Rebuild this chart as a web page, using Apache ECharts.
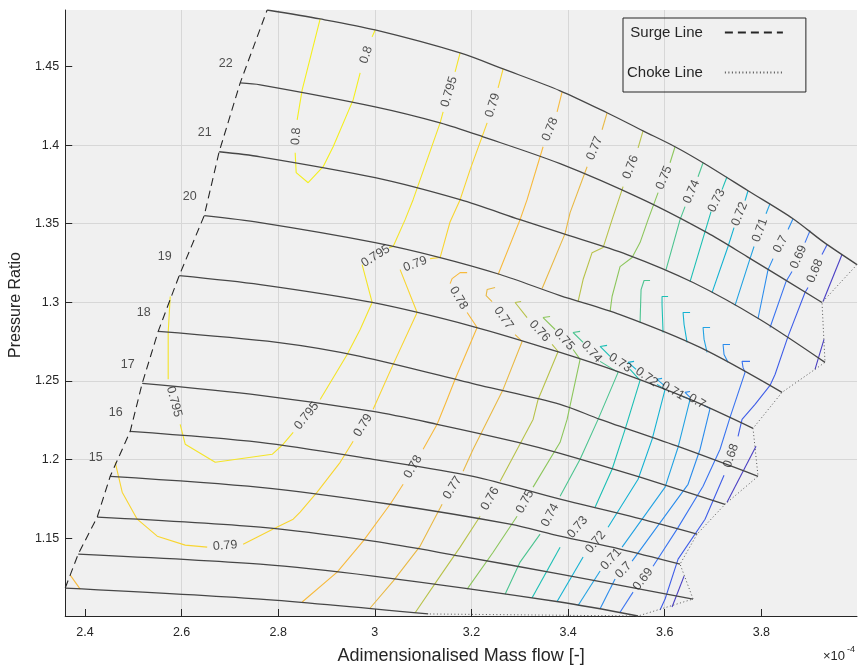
<!DOCTYPE html>
<html>
<head>
<meta charset="utf-8">
<title>Compressor map</title>
<script src="https://cdn.jsdelivr.net/npm/echarts@6.0.0/dist/echarts.min.js"></script>
<style>
html,body{margin:0;padding:0;background:#ffffff;}
#chart{width:860px;height:670px;}
</style>
</head>
<body>
<div id="chart"></div>
<script>
// ---------------- tick labels ----------------
const xTicks = [2.4, 2.6, 2.8, 3.0, 3.2, 3.4, 3.6, 3.8];
const yTicks = [1.15, 1.2, 1.25, 1.3, 1.35, 1.4, 1.45];

// ---------------- speed lines: [mass flow (x1e-4), pressure ratio] ----------------
const speedLine1 = [[2.7771,1.4860],[2.8868,1.4803],[3.0006,1.4733],[3.1765,1.4587],[3.2655,1.4485],[3.3834,1.4346],[3.4806,1.4206],[3.5551,1.4091],[3.6213,1.3990],[3.6793,1.3888],[3.7724,1.3710],[3.8655,1.3532],[3.9276,1.3386],[3.9979,1.3240]];
const speedLine2 = [[2.7213,1.4396],[2.7627,1.4384],[3.0006,1.4244],[3.1351,1.4142],[3.2241,1.4053],[3.3834,1.3882],[3.5551,1.3653],[3.6876,1.3443],[3.7703,1.3291],[3.9255,1.2999]];
const speedLine3 = [[2.6778,1.3958],[2.7627,1.3926],[3.0006,1.3793],[3.1765,1.3653],[3.3006,1.3526],[3.3834,1.3443],[3.5220,1.3304],[3.6586,1.3126],[3.7972,1.2891],[3.9317,1.2618]];
const speedLine4 = [[2.6468,1.3551],[2.7627,1.3507],[3.0006,1.3380],[3.1351,1.3285],[3.2593,1.3177],[3.3834,1.3043],[3.5075,1.2922],[3.6731,1.2713],[3.8427,1.2427]];
const speedLine5 = [[2.5951,1.3170],[2.7627,1.3113],[2.9944,1.2999],[3.2034,1.2846],[3.3834,1.2681],[3.5075,1.2554],[3.6524,1.2382],[3.7827,1.2198]];
const speedLine6 = [[2.5516,1.2815],[2.7978,1.2745],[2.9696,1.2656],[3.2179,1.2471],[3.3834,1.2351],[3.4662,1.2255],[3.6317,1.2078],[3.7931,1.1893]];
const speedLine7 = [[2.5185,1.2484],[2.7627,1.2408],[2.9965,1.2306],[3.1289,1.2224],[3.2965,1.2109],[3.3834,1.2039],[3.5489,1.1887],[3.7248,1.1715]];
const speedLine8 = [[2.4937,1.2179],[2.7627,1.2109],[2.9965,1.2001],[3.2034,1.1893],[3.3834,1.1747],[3.5282,1.1639],[3.6669,1.1525]];
const speedLine9 = [[2.4523,1.1893],[2.7627,1.1823],[3.0317,1.1715],[3.2799,1.1588],[3.3834,1.1512],[3.5075,1.1430],[3.6317,1.1334]];
const speedLine10 = [[2.4254,1.1633],[2.7627,1.1569],[2.9965,1.1480],[3.1765,1.1385],[3.3834,1.1271],[3.6586,1.1112]];
const speedLine11 = [[2.3861,1.1398],[2.7627,1.1334],[2.9965,1.1258],[3.3834,1.1093],[3.5448,1.1004]];
const speedLine12 = [[2.3592,1.1182],[2.7627,1.1112],[3.1103,1.1017]];
const speedLabels = ['', '22', '21', '20', '19', '18', '17', '16', '15', '', '', ''];

// ---------------- surge / choke ----------------
const surgeLine = [[2.3592,1.1182],[2.3861,1.1398],[2.4254,1.1633],[2.4523,1.1893],[2.4937,1.2179],[2.5185,1.2484],[2.5516,1.2815],[2.5951,1.3170],[2.6468,1.3551],[2.6778,1.3958],[2.7213,1.4396],[2.7771,1.4860]];
const chokeLine = [[3.9979,1.3240],[3.9255,1.2999],[3.9317,1.2618],[3.8427,1.2427],[3.7827,1.2198],[3.7931,1.1893],[3.7248,1.1715],[3.6669,1.1525],[3.6317,1.1334],[3.6586,1.1112],[3.5448,1.1004],[3.1103,1.1017]];

// ---------------- efficiency contours ('L' = labelled gap, null = break) ----------------
const eff080 = [[2.8868,1.4803],[2.8496,1.4352],[2.8392,1.4161],'L',[2.8351,1.3952],[2.8372,1.3825],[2.8620,1.3761],[2.8930,1.3863],[2.9137,1.3990],[2.9551,1.4288],[2.9696,1.4460],'L',[2.9944,1.4689],[3.0006,1.4733]];
const eff0795 = [[3.1765,1.4587],[3.1661,1.4466],'L',[3.1413,1.4212],[3.1351,1.4142],[3.0792,1.3653],[3.0627,1.3526],[3.0379,1.3355],[3.0296,1.3348],'L',[2.9737,1.3240],[2.9944,1.2999],[2.9696,1.2827],[2.9427,1.2668],[2.8868,1.2382],'L',[2.8310,1.2173],[2.8103,1.2097],[2.7875,1.2033],[2.6696,1.1982],[2.6075,1.2097],[2.5971,1.2224],'L',[2.5723,1.2510],[2.5723,1.2808],[2.5765,1.3037]];
const eff079 = [[3.2655,1.4485],[3.2551,1.4365],'L',[3.2324,1.4142],[3.1972,1.3844],[3.1765,1.3653],[3.1558,1.3513],[3.1351,1.3285],[3.1144,1.3278],'L',[3.0523,1.3208],[3.0875,1.2935],[3.0379,1.2605],[2.9965,1.2319],'L',[2.9551,1.2116],[2.9282,1.1982],[2.8806,1.1792],[2.8454,1.1665],[2.8310,1.1620],[2.7896,1.1557],[2.7275,1.1461],'L',[2.6530,1.1442],[2.6075,1.1455],[2.5496,1.1512],[2.5082,1.1620],[2.4771,1.1792],[2.4627,1.1982]];
const eff078 = [[3.3875,1.4339],[3.3772,1.4212],'L',[3.3482,1.3990],[3.3151,1.3653],[3.3006,1.3526],[3.2551,1.3177],null,[3.1910,1.3189],[3.1765,1.3189],[3.1599,1.3151],[3.1558,1.3119],'L',[3.1910,1.2935],[3.2117,1.2840],[3.1661,1.2510],[3.1496,1.2382],[3.1289,1.2224],[3.0999,1.2065],'L',[3.0586,1.1842],[3.0317,1.1715],[2.9758,1.1480],[2.9220,1.1283],[2.8496,1.1093],null,[2.3695,1.1264],[2.3902,1.1175]];
const eff077 = [[3.4806,1.4206],[3.4703,1.4098],'L',[3.4393,1.3863],[3.4041,1.3571],[3.3937,1.3437],[3.3462,1.3088],null,[3.2489,1.3094],[3.2324,1.3081],[3.2303,1.3043],[3.2427,1.3005],'L',[3.2903,1.2795],[3.3048,1.2751],[3.2655,1.2446],[3.2034,1.2065],[3.1827,1.1925],'L',[3.1392,1.1715],[3.0937,1.1449],[3.0379,1.1226],[2.9903,1.1055]];
const eff076 = [[3.5551,1.4091],[3.5448,1.3983],'L',[3.5138,1.3736],[3.4910,1.3526],[3.4724,1.3348],[3.4496,1.3316],[3.4310,1.3145],[3.4206,1.3005],null,[3.3027,1.3005],[3.2903,1.2999],[3.3151,1.2903],'L',[3.3668,1.2732],[3.3793,1.2687],[3.3379,1.2382],[3.3275,1.2255],[3.2593,1.1862],'L',[3.2179,1.1639],[3.1765,1.1442],[3.1351,1.1258],[3.0834,1.1025]];
const eff075 = [[3.6213,1.3990],[3.6110,1.3888],'L',[3.5862,1.3698],[3.5655,1.3526],[3.5489,1.3380],[3.5324,1.3285],[3.5075,1.3227],[3.4910,1.3037],[3.4869,1.2942],null,[3.3627,1.2910],[3.3482,1.2903],[3.3731,1.2827],'L',[3.4103,1.2700],[3.4248,1.2637],[3.3979,1.2255],[3.3834,1.2109],[3.3275,1.1824],'L',[3.2944,1.1639],[3.2448,1.1410],[3.1910,1.1175]];
const eff074 = [[3.6793,1.3888],[3.6689,1.3799],'L',[3.6420,1.3609],[3.6317,1.3526],[3.6027,1.3208],null,[3.5696,1.3139],[3.5572,1.3139],[3.5510,1.3081],[3.5489,1.2872],null,[3.4248,1.2815],[3.4103,1.2808],[3.4310,1.2745],'L',[3.4662,1.2624],[3.5034,1.2554],[3.4620,1.2255],[3.4248,1.2001],[3.3834,1.1766],'L',[3.3420,1.1525],[3.3006,1.1347],[3.2696,1.1143]];
const eff073 = [[3.7289,1.3799],[3.7186,1.3717],'L',[3.6958,1.3577],[3.6834,1.3450],[3.6524,1.3132],null,[3.6069,1.3037],[3.5944,1.3037],[3.5944,1.2986],[3.5965,1.2808],null,[3.4806,1.2726],[3.4662,1.2719],[3.4869,1.2656],'L',[3.5282,1.2573],[3.5489,1.2503],[3.5179,1.2192],[3.4910,1.1938],[3.4558,1.1696],'L',[3.3834,1.1442],[3.3255,1.1120]];
const eff072 = [[3.7724,1.3710],[3.7662,1.3647],'L',[3.7434,1.3475],[3.7310,1.3355],[3.6979,1.3062],null,[3.6524,1.2935],[3.6379,1.2935],[3.6400,1.2859],[3.6462,1.2745],null,[3.5365,1.2624],[3.5241,1.2618],[3.5407,1.2573],'L',[3.5841,1.2478],[3.6007,1.2446],[3.5738,1.2128],[3.5448,1.1874],[3.4827,1.1569],'L',[3.4310,1.1379],[3.3772,1.1096]];
const eff071 = [[3.8179,1.3628],[3.8096,1.3564],'L',[3.7848,1.3355],[3.7765,1.3278],[3.7455,1.2980],null,[3.6938,1.2840],[3.6793,1.2840],[3.6814,1.2764],[3.6876,1.2681],null,[3.5944,1.2516],[3.5841,1.2510],[3.5986,1.2471],'L',[3.6358,1.2402],[3.6524,1.2382],[3.6276,1.2078],[3.6007,1.1824],[3.5117,1.1442],'L',[3.4662,1.1290],[3.4206,1.1071]];
const eff070 = [[3.8655,1.3532],[3.8552,1.3463],'L',[3.8241,1.3278],[3.8138,1.3208],[3.7931,1.2897],null,[3.7351,1.2732],[3.7207,1.2732],[3.7227,1.2668],[3.7310,1.2618],null,[3.6524,1.2433],[3.6420,1.2427],[3.6524,1.2395],'L',[3.6814,1.2344],[3.6938,1.2325],[3.6731,1.2065],[3.6482,1.1842],[3.5324,1.1353],'L',[3.4972,1.1239],[3.4662,1.1050]];
const eff069 = [[3.9007,1.3456],[3.8903,1.3380],'L',[3.8634,1.3196],[3.8510,1.3132],[3.8179,1.2840],null,[3.7765,1.2624],[3.7600,1.2624],[3.7620,1.2586],[3.7662,1.2554],[3.7351,1.2268],[3.7145,1.2065],[3.6793,1.1830],[3.6255,1.1557],[3.5758,1.1321],'L',[3.5344,1.1156],[3.5075,1.1028]];
const eff068 = [[3.9359,1.3367],[3.9255,1.3304],'L',[3.8965,1.3094],[3.8903,1.3062],[3.8552,1.2783],[3.8283,1.2541],[3.8179,1.2471],[3.7869,1.2351],[3.7600,1.2255],[3.7517,1.2147],'L',[3.7227,1.1900],[3.6834,1.1620],[3.6276,1.1366],[3.6007,1.1112],[3.5903,1.1042]];
const eff067 = [[3.9669,1.3304],[3.9276,1.3005],null,[3.9296,1.2764],[3.9172,1.2637],[3.9110,1.2573],null,[3.7889,1.2084],[3.7289,1.1728],null,[3.6400,1.1258],[3.6151,1.1061]];

// ---------------- styling (not data) ----------------
const FONT = '"Liberation Sans", Arial, Helvetica, sans-serif';
const TXT = '#262626';
const GRID = { left: 65, right: 3, top: 10, bottom: 53 };
const W = 860, H = 670;
const contours = [
  { level: 0.67, pts: eff067, color: '#4a3fc4' },
  { level: 0.68, pts: eff068, color: '#3f5de8' },
  { level: 0.69, pts: eff069, color: '#3a74f0' },
  { level: 0.70, pts: eff070, color: '#2b8cec' },
  { level: 0.71, pts: eff071, color: '#22a2e2' },
  { level: 0.72, pts: eff072, color: '#14b2d2' },
  { level: 0.73, pts: eff073, color: '#1cbfb4' },
  { level: 0.74, pts: eff074, color: '#4cc490' },
  { level: 0.75, pts: eff075, color: '#8cc65c' },
  { level: 0.76, pts: eff076, color: '#b8c24a' },
  { level: 0.77, pts: eff077, color: '#e8b945' },
  { level: 0.78, pts: eff078, color: '#f7ba3d' },
  { level: 0.79, pts: eff079, color: '#f8d530' },
  { level: 0.795, pts: eff0795, color: '#f4e428' },
  { level: 0.80, pts: eff080, color: '#f4ef1e' }
];
const speedLines = [speedLine1, speedLine2, speedLine3, speedLine4, speedLine5, speedLine6,
  speedLine7, speedLine8, speedLine9, speedLine10, speedLine11, speedLine12];

// tight axis limits from the map outline
let xmin = Infinity, xmax = -Infinity, ymin = Infinity, ymax = -Infinity;
speedLines.concat([surgeLine, chokeLine]).forEach(line => line.forEach(p => {
  xmin = Math.min(xmin, p[0]); xmax = Math.max(xmax, p[0]);
  ymin = Math.min(ymin, p[1]); ymax = Math.max(ymax, p[1]);
}));

const gw = W - GRID.left - GRID.right, gh = H - GRID.top - GRID.bottom;
const sx = gw / (xmax - xmin), sy = gh / (ymax - ymin);
function angleOf(a, b) {
  let d = Math.atan2((b[1] - a[1]) * sy, (b[0] - a[0]) * sx) * 180 / Math.PI;
  if (d > 90) d -= 180;
  if (d <= -90) d += 180;
  return d;
}

const series = [];
const labelItems = [];
contours.forEach(c => {
  let cur = [];
  const flush = () => {
    if (cur.length > 1) {
      series.push({
        type: 'line', data: cur, symbol: 'none', showSymbol: false, silent: true,
        animation: false, z: 2, lineStyle: { color: c.color, width: 1.1 }, itemStyle: { color: c.color },
        emphasis: { disabled: true }
      });
    }
    cur = [];
  };
  c.pts.forEach((p, i) => {
    if (p === null || p === 'L') {
      flush();
      if (p === 'L') {
        const a = c.pts[i - 1], b = c.pts[i + 1];
        labelItems.push({
          name: String(c.level),
          value: [(a[0] + b[0]) / 2, (a[1] + b[1]) / 2],
          label: { rotate: angleOf(a, b) }
        });
      }
    } else {
      cur.push(p);
    }
  });
  flush();
});

speedLines.forEach(line => {
  series.push({
    type: 'line', data: line, symbol: 'none', showSymbol: false, silent: true, smooth: 0.3,
    animation: false, z: 3, lineStyle: { color: '#474747', width: 1.3 }, emphasis: { disabled: true }
  });
});

series.push({
  name: 'Surge Line', type: 'line', data: surgeLine, symbol: 'none', showSymbol: false, silent: true,
  animation: false, z: 4, lineStyle: { color: '#262626', width: 1.1, type: [8, 5] },
  itemStyle: { color: '#262626' }, emphasis: { disabled: true }
});
series.push({
  name: 'Choke Line', type: 'line', data: chokeLine, symbol: 'none', showSymbol: false, silent: true,
  animation: false, z: 4, lineStyle: { color: '#555555', width: 1, type: [1, 2.5] },
  itemStyle: { color: '#555555' }, emphasis: { disabled: true }
});

// contour labels
series.push({
  type: 'scatter', data: labelItems, symbolSize: 0, silent: true, animation: false, z: 6,
  label: {
    show: true, position: 'inside', formatter: p => p.name,
    fontSize: 12.5, color: TXT, fontFamily: FONT
  },
  emphasis: { disabled: true }
});
// speed labels
series.push({
  type: 'scatter', silent: true, animation: false, z: 6, symbolSize: 0,
  data: speedLines.map((line, i) => ({ name: speedLabels[i], value: line[0] })).filter(d => d.name !== ''),
  label: {
    show: true, position: 'inside', offset: [-14.5, -19], formatter: p => p.name,
    fontSize: 12.5, color: TXT, fontFamily: FONT
  },
  emphasis: { disabled: true }
});

function tickFmt(ticks) {
  return v => {
    const t = ticks.find(t => Math.abs(t - v) < 1e-6);
    return t === undefined ? '' : String(t);
  };
}

const option = {
  backgroundColor: '#ffffff',
  animation: false,
  textStyle: { fontFamily: FONT },
  grid: {
    left: GRID.left, right: GRID.right, top: GRID.top, bottom: GRID.bottom,
    show: true, backgroundColor: '#f0f0f0', borderWidth: 0
  },
  legend: {
    data: ['Surge Line', 'Choke Line'],
    orient: 'vertical', left: 623, top: 18, align: 'right',
    itemWidth: 58, itemHeight: 15, itemGap: 25,
    padding: [7, 22, 12, 4],
    borderColor: '#262626', borderWidth: 1, borderRadius: 0,
    backgroundColor: 'transparent', selectedMode: false,
    itemStyle: { opacity: 0 },
    textStyle: { fontSize: 15, color: TXT, padding: [0, 17, 0, 0], lineHeight: 15, fontFamily: FONT }
  },
  xAxis: {
    type: 'value', min: xmin, max: xmax, splitNumber: 8,
    name: 'Adimensionalised Mass flow [-]', nameLocation: 'middle', nameGap: 31,
    nameTextStyle: { fontSize: 18, color: TXT, fontFamily: FONT },
    axisLine: { show: true, onZero: false, lineStyle: { color: TXT, width: 1 } },
    axisTick: { show: true, inside: true, length: 7, lineStyle: { color: TXT }, customValues: xTicks },
    axisLabel: { color: TXT, fontSize: 12.5, margin: 10, formatter: tickFmt(xTicks), showMinLabel: true, showMaxLabel: true, fontFamily: FONT },
    splitLine: { show: true, lineStyle: { color: '#d7d7d7', width: 1 }, showMinLine: false, showMaxLine: false }
  },
  yAxis: {
    type: 'value', min: ymin, max: ymax, splitNumber: 8,
    name: 'Pressure Ratio', nameLocation: 'middle', nameGap: 37,
    nameTextStyle: { fontSize: 16, color: TXT, fontFamily: FONT, padding: [0, 0, 0, 16] },
    axisLine: { show: true, onZero: false, lineStyle: { color: TXT, width: 1 } },
    axisTick: { show: true, inside: true, length: 7, lineStyle: { color: TXT }, customValues: yTicks },
    axisLabel: { color: TXT, fontSize: 12.5, margin: 6, formatter: tickFmt(yTicks), showMinLabel: true, showMaxLabel: true, fontFamily: FONT },
    splitLine: { show: true, lineStyle: { color: '#d7d7d7', width: 1 }, showMinLine: false, showMaxLine: false }
  },
  graphic: [
    { type: 'text', x: 823, y: 656, silent: true,
      style: { text: '\u00d710', font: '13px ' + FONT, fill: TXT, verticalAlign: 'middle', align: 'left' } },
    { type: 'text', x: 847, y: 650, silent: true,
      style: { text: '-4', font: '9px ' + FONT, fill: TXT, verticalAlign: 'middle', align: 'left' } }
  ],
  series: series
};

const chart = echarts.init(document.getElementById('chart'), null, { renderer: 'canvas', width: W, height: H });
chart.setOption(option);
</script>
</body>
</html>
